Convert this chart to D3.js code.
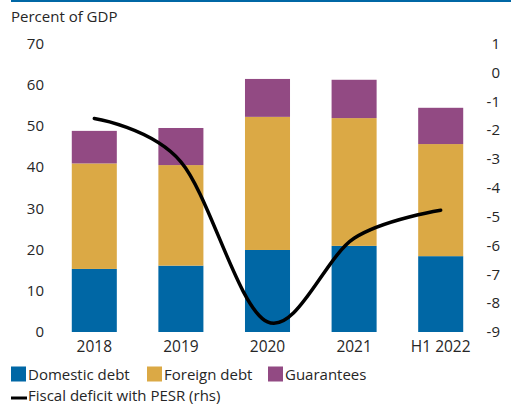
<!DOCTYPE html>
<html>
<head>
<meta charset="utf-8">
<script src="https://cdn.jsdelivr.net/npm/d3@7"></script>
<style>
  html, body { margin: 0; padding: 0; background: #fff; }
  svg { display: block; }
  text { font-family: "Open Sans", "Noto Sans", sans-serif; fill: #262626; }
</style>
</head>
<body>
<svg id="chart" width="511" height="404"></svg>
<script>
// Public debt composition (percent of GDP) and fiscal deficit (rhs)
const categories = ["2018", "2019", "2020", "2021", "H1 2022"];
const domesticDebt = [15.3, 16.1, 19.9, 20.9, 18.4];
const foreignDebt  = [25.6, 24.4, 32.3, 31.0, 27.2];
const guarantees   = [7.9, 9.0, 9.2, 9.3, 8.8];
const fiscalDeficit = [-1.6, -3.1, -8.65, -5.75, -4.78];
const leftTicks = [0, 10, 20, 30, 40, 50, 60, 70];
const rightTicks = [1, 0, -1, -2, -3, -4, -5, -6, -7, -8, -9];
const seriesNames = ["Domestic debt", "Foreign debt", "Guarantees"];
const seriesColors = ["#0067a5", "#dba945", "#924a83"];

const svg = d3.select("#chart");

const x = d3.scaleBand().domain(categories).range([51, 484])
  .paddingInner(0.48).paddingOuter(0.24);
const yL = d3.scaleLinear().domain([0, 70]).range([332, 43.5]);
const yR = d3.scaleLinear().domain([-9, 1]).range([332, 43.5]);

// top rule
svg.append("line").attr("x1", 11).attr("x2", 511).attr("y1", 1).attr("y2", 1)
  .attr("stroke", "#0067a5").attr("stroke-width", 2);

svg.append("text").attr("x", 11).attr("y", 22).style("font-size", "15px")
  .text("Percent of GDP");

// stacked bars
const rows = categories.map((c, i) => ({
  cat: c, "Domestic debt": domesticDebt[i], "Foreign debt": foreignDebt[i], "Guarantees": guarantees[i]
}));
const stacked = d3.stack().keys(seriesNames)(rows);
svg.append("g").selectAll("g").data(stacked).join("g")
  .attr("fill", (d, i) => seriesColors[i])
  .selectAll("rect").data(d => d).join("rect")
  .attr("x", d => x(d.data.cat))
  .attr("width", x.bandwidth())
  .attr("y", d => yL(d[1]))
  .attr("height", d => yL(d[0]) - yL(d[1]));

// left axis
const axL = svg.append("g").attr("transform", "translate(44,0)")
  .call(d3.axisLeft(yL).tickValues(leftTicks).tickSize(0).tickPadding(0));
axL.select(".domain").remove();
axL.selectAll("text").style("font-size", "15px").attr("font-family", null);

// right axis
const axR = svg.append("g").attr("transform", "translate(500,0)")
  .call(d3.axisLeft(yR).tickValues(rightTicks).tickSize(0).tickPadding(0)
    .tickFormat(d => d < 0 ? "-" + Math.abs(d) : String(d)));
axR.select(".domain").remove();
axR.selectAll("text").style("font-size", "15px").attr("font-family", null);

// bottom axis labels
const axB = svg.append("g").attr("transform", "translate(0,341)")
  .call(d3.axisBottom(x).tickSize(0).tickPadding(0));
axB.select(".domain").remove();
axB.selectAll("text").style("font-size", "15.5px").attr("font-family", null);

// fiscal deficit line
const line = d3.line()
  .x((d, i) => x(categories[i]) + x.bandwidth() / 2)
  .y(d => yR(d))
  .curve(d3.curveCardinal.tension(0));
svg.append("path").datum(fiscalDeficit)
  .attr("d", line).attr("fill", "none")
  .attr("stroke", "#000").attr("stroke-width", 3.5).attr("stroke-linecap", "round");

// legend
const legendX = [11, 147, 268];
const leg = svg.append("g");
seriesNames.forEach((n, i) => {
  leg.append("rect").attr("x", legendX[i]).attr("y", 366.5).attr("width", 15).attr("height", 15)
    .attr("fill", seriesColors[i]);
  leg.append("text").attr("x", legendX[i] + 17).attr("y", 379.5)
    .style("font-size", "15px").text(n);
});
leg.append("line").attr("x1", 11).attr("x2", 27).attr("y1", 398).attr("y2", 398)
  .attr("stroke", "#000").attr("stroke-width", 3);
leg.append("text").attr("x", 28).attr("y", 401).style("font-size", "15px")
  .text("Fiscal deficit with PESR (rhs)");
</script>
</body>
</html>
